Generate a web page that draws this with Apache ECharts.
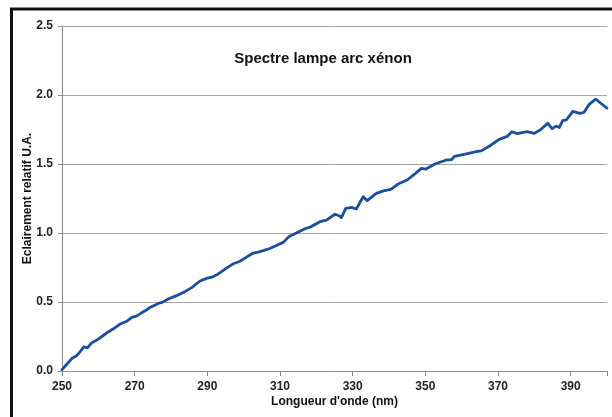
<!DOCTYPE html>
<html>
<head>
<meta charset="utf-8">
<script src="https://cdn.jsdelivr.net/npm/echarts@6/dist/echarts.min.js"></script>
<style>
html,body{margin:0;padding:0;background:#fff;}
#chart{width:612px;height:417px;}
</style>
</head>
<body>
<div id="chart"></div>
<script>
const titleText = "Spectre lampe arc xénon";
const xAxisName = "Longueur d'onde (nm)";
const yAxisName = "Eclairement relatif U.A.";

const wavelengths = [250,251,252.7,254,255,256,257,258.2,259.5,261,262.7,264.5,266,267.8,269.2,270.5,271.7,273,274.2,276.5,277.6,279.2,281.5,283.8,285.7,288,289.8,291.2,292.5,294.8,297,299,300.8,302.6,304,305.4,307.2,309,310.9,312.5,314.5,316.6,318.5,321,322.8,325.1,326.3,326.9,328.1,329.7,331,332.9,334,336.5,338.5,340.5,342.5,345,347.3,348.9,350,352.8,355.8,357.2,358,361,364,365.4,367.9,370.2,372.5,373.8,375.3,378,380,381.7,383.7,384.9,386,386.9,387.8,388.8,390.6,392.5,393.7,395.1,396.9,398.2,400];
const intensity = [0.01,0.04,0.09,0.11,0.14,0.175,0.168,0.205,0.222,0.25,0.283,0.312,0.34,0.36,0.388,0.398,0.418,0.438,0.46,0.49,0.497,0.522,0.546,0.575,0.604,0.652,0.671,0.68,0.695,0.737,0.775,0.795,0.825,0.855,0.862,0.872,0.888,0.91,0.932,0.975,1.0,1.028,1.045,1.082,1.094,1.136,1.125,1.111,1.179,1.186,1.174,1.263,1.234,1.287,1.305,1.316,1.355,1.384,1.432,1.468,1.462,1.502,1.529,1.531,1.555,1.572,1.589,1.595,1.634,1.677,1.70,1.734,1.72,1.734,1.722,1.748,1.795,1.756,1.775,1.765,1.814,1.819,1.882,1.867,1.875,1.932,1.97,1.942,1.905];

const seriesData = wavelengths.map((w, i) => [w, intensity[i]]);

const chart = echarts.init(document.getElementById('chart'), null, {renderer: 'canvas'});
const FONT = 'Liberation Sans, Arial, sans-serif';
chart.setOption({
  animation: false,
  backgroundColor: '#fff',
  title: {
    text: titleText,
    left: 318,
    top: 46,
    textAlign: 'center',
    textStyle: {fontFamily: FONT, fontSize: 15, fontWeight: 'bold', color: '#111'}
  },
  grid: {left: 62, top: 26, right: 5, bottom: 46, containLabel: false},
  xAxis: {
    type: 'value',
    min: 250, max: 400, interval: 20,
    name: xAxisName,
    nameLocation: 'middle',
    nameGap: 25,
    nameMoveOverlap: false,
    nameTextStyle: {fontFamily: FONT, fontSize: 12, fontWeight: 'bold', color: '#111'},
    axisLine: {show: true, lineStyle: {color: '#8c8c8c', width: 1}},
    axisTick: {show: true, length: 5, lineStyle: {color: '#8c8c8c'}},
    axisLabel: {
      fontFamily: FONT, fontSize: 12, fontWeight: 'bold', color: '#222', margin: 10,
      formatter: v => (v === 400 ? '' : String(v))
    },
    splitLine: {show: false}
  },
  yAxis: {
    type: 'value',
    min: 0, max: 2.5, interval: 0.5,
    name: yAxisName,
    nameLocation: 'middle',
    nameGap: 28,
    nameMoveOverlap: false,
    nameTextStyle: {fontFamily: FONT, fontSize: 12, fontWeight: 'bold', color: '#111'},
    axisLine: {show: true, lineStyle: {color: '#8c8c8c', width: 1}},
    axisTick: {show: true, length: 4, lineStyle: {color: '#8c8c8c'}},
    axisLabel: {
      fontFamily: FONT, fontSize: 12, fontWeight: 'bold', color: '#222', margin: 9,
      formatter: v => v.toFixed(1)
    },
    splitLine: {show: true, lineStyle: {color: '#a6a6a6', width: 1}}
  },
  series: [{
    type: 'line',
    data: seriesData,
    showSymbol: false,
    symbol: 'none',
    smooth: false,
    lineStyle: {color: '#1a4fa0', width: 2.8, join: 'round', cap: 'round'},
    clip: true
  }],
  graphic: [
    {type: 'line', shape: {x1: 11.5, y1: 8, x2: 11.5, y2: 417}, style: {stroke: '#111', lineWidth: 3}, silent: true},
    {type: 'line', shape: {x1: 10, y1: 9, x2: 612, y2: 9}, style: {stroke: '#111', lineWidth: 3}, silent: true}
  ]
});
</script>
</body>
</html>
